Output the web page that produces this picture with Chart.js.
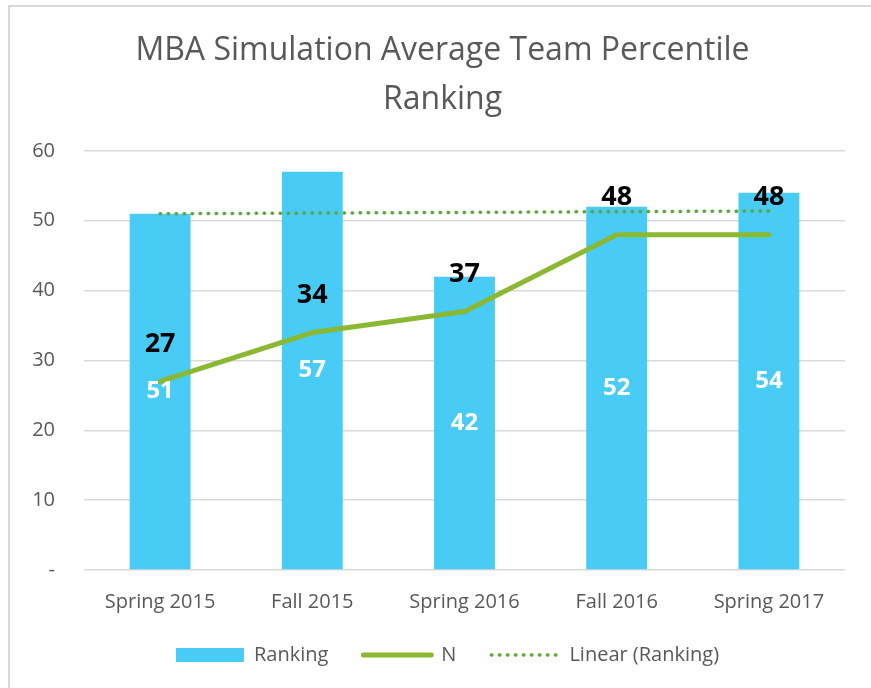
<!DOCTYPE html>
<html>
<head>
<meta charset="utf-8">
<script src="https://cdn.jsdelivr.net/npm/chart.js@4/dist/chart.umd.min.js"></script>
<style>
  html, body { margin: 0; background: #fff; overflow: hidden; }
  #frame { position: fixed; left: 8px; top: 5px; right: -20px; bottom: -20px; border: 2px solid #d9d9d9; }
  #mChart { position: fixed; left: 0; top: 0; }
</style>
</head>
<body>
<div id="frame"></div>
<canvas id="mChart" width="871" height="688"></canvas>
<script>
const terms = ['Spring 2015', 'Fall 2015', 'Spring 2016', 'Fall 2016', 'Spring 2017'];
const ranking = [51, 57, 42, 52, 54];
const nTeams = [27, 34, 37, 48, 48];
const linearRanking = [51.0, 51.1, 51.2, 51.3, 51.4];
const yTicks = [0, 10, 20, 30, 40, 50, 60];

const font = "'Open Sans', 'DejaVu Sans', sans-serif";
const grey = '#595959';

// value labels: white in the middle of bars, black bold above the N line
const valueLabels = {
    id: 'valueLabels',
    afterDatasetsDraw(chart) {
        const ctx = chart.ctx;
        ctx.save();
        ctx.textAlign = 'center';
        ctx.textBaseline = 'middle';
        chart.getDatasetMeta(0).data.forEach((el, i) => {
            ctx.fillStyle = '#ffffff';
            ctx.font = 'bold 24px ' + font;
            ctx.fillText(ranking[i], el.x, (el.y + el.base) / 2);
        });
        chart.getDatasetMeta(1).data.forEach((el, i) => {
            ctx.fillStyle = '#000000';
            ctx.font = 'bold 27px ' + font;
            ctx.fillText(nTeams[i], el.x, el.y - 37);
        });
        ctx.restore();
    }
};

// title and legend sit a bit right of the canvas centre in the original
const nudge = {
    id: 'nudge',
    afterLayout(chart) {
        chart.titleBlock.left += 20;
        chart.titleBlock.right += 20;
        chart.legend.left += 25;
        chart.legend.right += 25;
        chart.legend.top -= 4;
        chart.legend.bottom -= 4;
    }
};

var ct = document.getElementById('mChart').getContext('2d');

var mChart = new Chart(ct, {
    type: 'bar',
    data: {
        labels: terms,
        datasets: [{
            label: 'Ranking',
            data: ranking,
            backgroundColor: '#48ccf6',
            categoryPercentage: 1,
            barPercentage: 0.4,
            order: 3
        }, {
            type: 'line',
            label: 'N',
            data: nTeams,
            borderColor: '#8ab833',
            borderWidth: 5,
            borderCapStyle: 'round',
            borderJoinStyle: 'round',
            pointRadius: 0,
            tension: 0,
            order: 2
        }, {
            type: 'line',
            label: 'Linear (Ranking)',
            data: linearRanking,
            borderColor: '#5ea83a',
            borderWidth: 3.5,
            borderDash: [0.5, 7.5],
            borderCapStyle: 'round',
            pointRadius: 0,
            order: 1
        }]
    },
    options: {
        responsive: false,
        animation: false,
        layout: { padding: { left: 0, right: 26, top: 0, bottom: 9 } },
        plugins: {
            title: {
                display: true,
                text: ['MBA Simulation Average Team Percentile', 'Ranking'],
                color: grey,
                font: { family: font, size: 32, weight: 'normal', lineHeight: 1.53 },
                padding: { top: 26, bottom: 27 }
            },
            legend: {
                position: 'bottom',
                labels: {
                    color: grey,
                    font: { family: font, size: 20, lineHeight: 0.7 },
                    usePointStyle: true,
                    pointStyleWidth: 68,
                    boxHeight: 14,
                    padding: 35,
                    generateLabels(chart) {
                        return chart.data.datasets.map((ds, i) => ({
                            text: ds.label,
                            datasetIndex: i,
                            fillStyle: i === 0 ? ds.backgroundColor : 'rgba(0,0,0,0)',
                            strokeStyle: i === 0 ? ds.backgroundColor : ds.borderColor,
                            lineWidth: i === 0 ? 0 : ds.borderWidth,
                            lineDash: ds.borderDash || [],
                            lineCap: ds.borderCapStyle || 'butt',
                            pointStyle: i === 0 ? 'rect' : 'line',
                            fontColor: grey,
                            hidden: false
                        }));
                    }
                }
            },
            tooltip: { enabled: false }
        },
        scales: {
            x: {
                afterFit(scale) { scale.height = 44; },
                grid: { display: false, drawTicks: false },
                border: { display: false },
                ticks: { color: grey, font: { family: font, size: 20 }, padding: 20, maxRotation: 0 }
            },
            y: {
                min: 0,
                max: 60,
                afterFit(scale) { scale.width = 84; },
                afterBuildTicks(scale) { scale.ticks = yTicks.map(v => ({ value: v })); },
                grid: { color: '#d9d9d9', lineWidth: 1.5, drawTicks: false },
                border: { display: false },
                ticks: {
                    color: grey,
                    font: { family: font, size: 20 },
                    padding: 29,
                    callback: v => v === 0 ? '-' : v
                }
            }
        }
    },
    plugins: [valueLabels, nudge]
});
</script>
</body>
</html>
